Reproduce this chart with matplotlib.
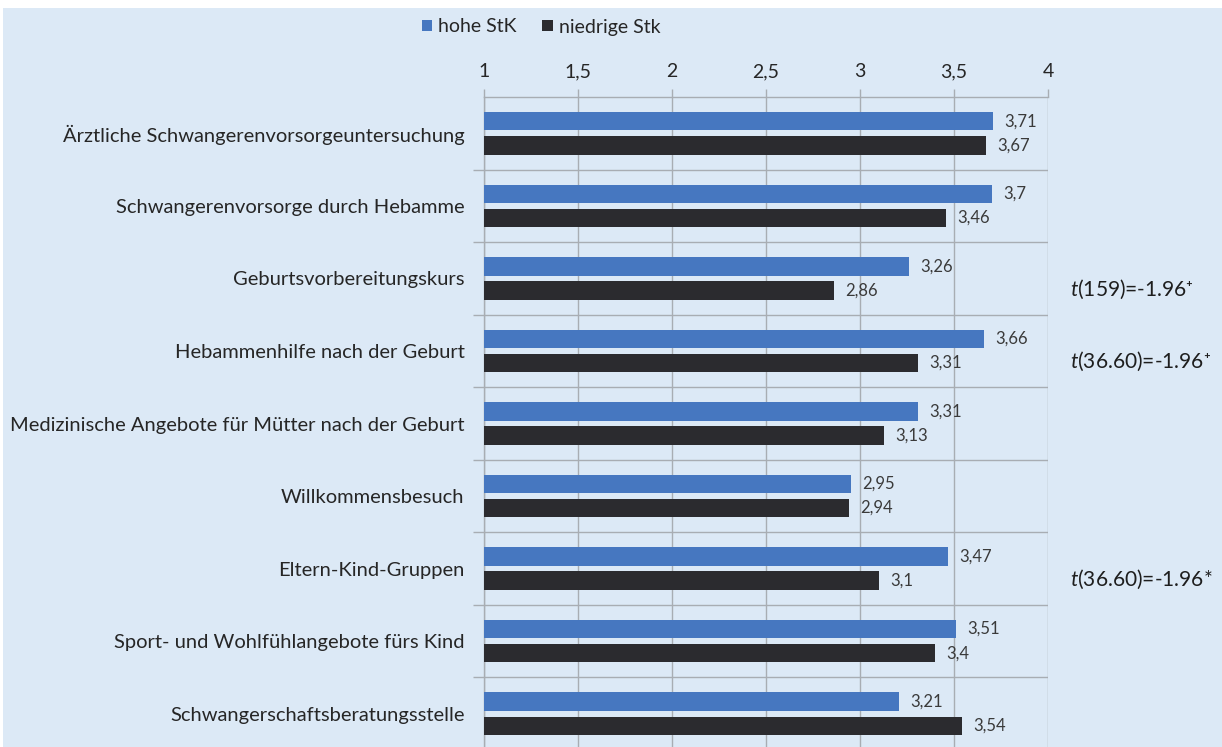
import matplotlib
matplotlib.use("Agg")
import matplotlib.pyplot as plt
from matplotlib.patches import Patch, Rectangle
from matplotlib.ticker import FixedLocator, FuncFormatter
import numpy as np

categories = [
    "Ärztliche Schwangerenvorsorgeuntersuchung",
    "Schwangerenvorsorge durch Hebamme",
    "Geburtsvorbereitungskurs",
    "Hebammenhilfe nach der Geburt",
    "Medizinische Angebote für Mütter nach der Geburt",
    "Willkommensbesuch",
    "Eltern-Kind-Gruppen",
    "Sport- und Wohlfühlangebote fürs Kind",
    "Schwangerschaftsberatungsstelle",
]
hohe = [3.71, 3.70, 3.26, 3.66, 3.31, 2.95, 3.47, 3.51, 3.21]
niedrige = [3.67, 3.46, 2.86, 3.31, 3.13, 2.94, 3.10, 3.40, 3.54]
series_names = ["hohe StK", "niedrige Stk"]
x_ticks = [1, 1.5, 2, 2.5, 3, 3.5, 4]
t_rows = [2, 3, 6]
t_texts = [r"$t$(159)=-1.96⁺", r"$t$(36.60)=-1.96⁺", r"$t$(36.60)=-1.96*"]

FONT = "Lato"
plt.rcParams["font.family"] = [FONT, "DejaVu Sans"]
plt.rcParams["mathtext.fontset"] = "custom"
plt.rcParams["mathtext.it"] = FONT + ":italic"
plt.rcParams["mathtext.rm"] = FONT

BG = "#dce9f6"
BLUE = "#4677c0"
DARK = "#2b2b2f"
GRID = "#a8adb3"
TXT = "#262626"

fig = plt.figure(figsize=(12.22, 7.47), dpi=100)
fig.patch.set_facecolor("white")
fig.patches.append(Rectangle((3 / 1222, 0), 1, 1 - 8 / 747, transform=fig.transFigure,
                             facecolor=BG, edgecolor="none", zorder=-10))

ax = fig.add_axes([484 / 1222, 1 - 750 / 747, (1048 - 484) / 1222, (750 - 97) / 747])
ax.set_facecolor(BG)

n = len(categories)
y = np.arange(n)
off = 0.166
h = 0.255
ax.barh(y - off, [v - 1 for v in hohe], left=1, height=h, color=BLUE, zorder=3, label=series_names[0])
ax.barh(y + off, [v - 1 for v in niedrige], left=1, height=h, color=DARK, zorder=3, label=series_names[1])

fmt = lambda v: (f"{v:g}").replace(".", ",")
for yi, v in zip(y, hohe):
    ax.text(v + 0.06, yi - off, fmt(v), va="center", ha="left", fontsize=12, color="#3a3a3a", zorder=4)
for yi, v in zip(y, niedrige):
    ax.text(v + 0.06, yi + off, fmt(v), va="center", ha="left", fontsize=12, color="#3a3a3a", zorder=4)

ax.set_xlim(1, 4)
ax.set_ylim(n - 0.5, -0.5)
ax.xaxis.tick_top()
ax.xaxis.set_major_locator(FixedLocator(x_ticks))
ax.xaxis.set_major_formatter(FuncFormatter(lambda v, p: fmt(v)))
ax.tick_params(axis="x", length=6, width=1, color=GRID, pad=6, labelsize=14, labelcolor=TXT)

ax.set_yticks(y)
ax.set_yticklabels(categories)
ax.tick_params(axis="y", which="major", length=0, pad=14, labelsize=14.5, labelcolor=TXT)
ax.yaxis.set_minor_locator(FixedLocator(np.arange(0.5, n - 0.5, 1.0)))
ax.tick_params(axis="y", which="minor", length=8, width=1, color=GRID)

ax.grid(axis="x", which="major", color=GRID, linewidth=1, zorder=0)
ax.grid(axis="y", which="minor", color=GRID, linewidth=1, zorder=0)
for s in ["top", "left"]:
    ax.spines[s].set_color(GRID)
    ax.spines[s].set_linewidth(1)
ax.spines["right"].set_visible(False)
ax.spines["bottom"].set_visible(False)
ax.set_axisbelow(True)

for r, t in zip(t_rows, t_texts):
    ax.text(4.115, r + 0.15, t, va="center", ha="left", fontsize=15, color="#1e1e1e", clip_on=False)

handles = [Patch(facecolor=BLUE, edgecolor="none"), Patch(facecolor=DARK, edgecolor="none")]
fig.legend(handles, series_names, loc="center", bbox_to_anchor=(541 / 1222, 1 - 27 / 747), ncol=2,
           frameon=False, fontsize=14, handlelength=0.55, handleheight=0.55, handletextpad=0.3,
           columnspacing=1.3, labelcolor=TXT)

fig.savefig("out.png", dpi=100, facecolor=fig.get_facecolor())
